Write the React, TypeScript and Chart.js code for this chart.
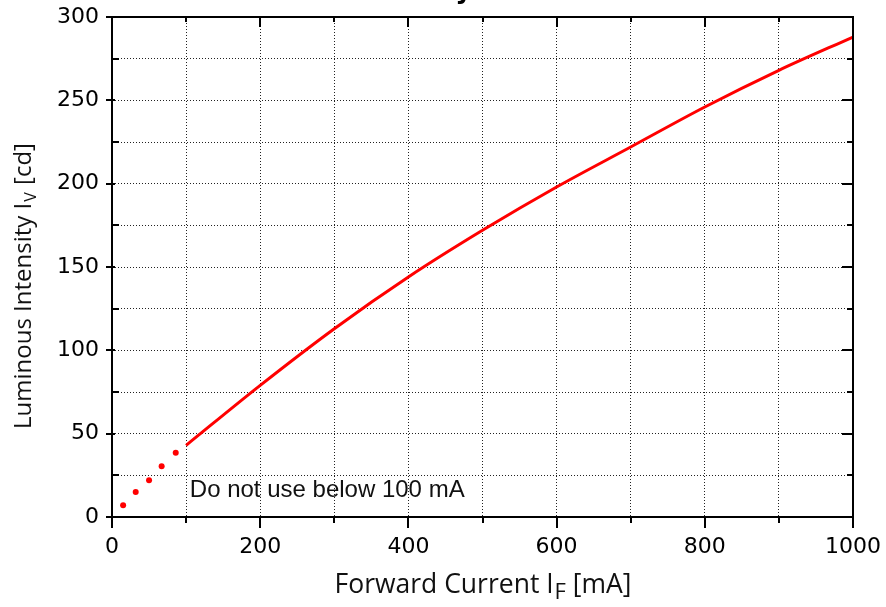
import { useEffect, useRef } from 'react';
import { Chart, registerables } from 'chart.js';

Chart.register(...registerables);

// ---- data ----
const currentMA = [100, 200, 300, 400, 500, 600, 700, 800, 900, 1000];
const intensityCd = [43, 79, 113, 144, 172, 198, 222, 246, 268, 288];
const extrapCurrentMA = [15, 32, 50, 67, 86];
const extrapIntensityCd = [7, 15, 22, 30.5, 38.5];
const xLabelValues = [0, 200, 400, 600, 800, 1000];
const yLabelValues = [0, 50, 100, 150, 200, 250, 300];

const titleText = 'Luminous Intensity vs. Forward Current';
const xTitleParts = ['Forward Current I', 'F', ' [mA]'];
const yTitleParts = ['Luminous Intensity I', 'V', ' [cd]'];
const noteText = 'Do not use below 100 mA';

const TICK_FONT = { family: 'DejaVu Sans', size: 22 };

const decorations = {
  id: 'decorations',
  afterDraw(chart: any) {
    const { ctx, chartArea: a, scales } = chart;
    const x = scales.x;
    const y = scales.y;
    ctx.save();

    // frame
    ctx.strokeStyle = '#000';
    ctx.lineWidth = 2;
    ctx.strokeRect(a.left, a.top, a.right - a.left, a.bottom - a.top);

    const seg = (x1: number, y1: number, x2: number, y2: number) => {
      ctx.beginPath();
      ctx.moveTo(x1, y1);
      ctx.lineTo(x2, y2);
      ctx.stroke();
    };

    // x ticks
    for (let v = 0; v <= 1000; v += 100) {
      const px = Math.round(x.getPixelForValue(v));
      const major = v % 200 === 0;
      const len = major ? 10 : 5;
      seg(px, a.top, px, a.top + len);
      seg(px, a.bottom, px, a.bottom + len + 1);
    }
    // y ticks
    for (let v = 0; v <= 300; v += 25) {
      const py = Math.round(y.getPixelForValue(v));
      const major = v % 50 === 0;
      if (major) {
        seg(a.left - 6, py, a.left + 3, py);
        seg(a.right - 11, py, a.right, py);
      } else {
        seg(a.left, py, a.left + 7, py);
        seg(a.right - 6, py, a.right, py);
      }
    }

    // title (mostly cut off at the top of the page)
    ctx.fillStyle = '#000';
    ctx.font = 'bold 26px "DejaVu Sans"';
    ctx.textAlign = 'center';
    ctx.textBaseline = 'alphabetic';
    ctx.fillText(titleText, (a.left + a.right) / 2, -2);

    // x axis title with subscript
    const mainFont = '26.5px "Open Sans"';
    const subFont = '22px "Open Sans"';
    ctx.fillStyle = '#111';
    ctx.textAlign = 'left';
    ctx.font = mainFont;
    const w1 = ctx.measureText(xTitleParts[0]).width;
    const w3 = ctx.measureText(xTitleParts[2]).width;
    ctx.font = subFont;
    const w2 = ctx.measureText(xTitleParts[1]).width;
    const cx = (a.left + a.right) / 2;
    const sx = cx - (w1 + w2 + w3) / 2;
    const baseX = 593;
    ctx.font = mainFont;
    ctx.fillText(xTitleParts[0], sx, baseX);
    ctx.font = subFont;
    ctx.fillText(xTitleParts[1], sx + w1 + 1, baseX + 6);
    ctx.font = mainFont;
    ctx.fillText(xTitleParts[2], sx + w1 + w2 + 1, baseX);

    // y axis title with subscript
    ctx.save();
    ctx.translate(31, 287);
    ctx.rotate(-Math.PI / 2);
    const yMain = '24px "Open Sans"';
    const ySub = '16px "Open Sans"';
    ctx.font = yMain;
    const v1 = ctx.measureText(yTitleParts[0]).width;
    const v3 = ctx.measureText(yTitleParts[2]).width;
    ctx.font = ySub;
    const v2 = ctx.measureText(yTitleParts[1]).width;
    const sy = -(v1 + v2 + v3) / 2;
    ctx.font = yMain;
    ctx.fillText(yTitleParts[0], sy, 0);
    ctx.font = ySub;
    ctx.fillText(yTitleParts[1], sy + v1 + 1, 5);
    ctx.font = yMain;
    ctx.fillText(yTitleParts[2], sy + v1 + v2 + 2, 0);
    ctx.restore();

    // note
    ctx.font = '24px "Liberation Sans"';
    ctx.fillStyle = '#111';
    ctx.fillText(noteText, x.getPixelForValue(105), y.getPixelForValue(11.8));

    ctx.restore();
  },
};

const noPad = (s: any) => {
  s.paddingLeft = 0;
  s.paddingRight = 0;
  s.paddingTop = 0;
  s.paddingBottom = 0;
};

export default function App() {
  const ref = useRef<HTMLCanvasElement | null>(null);

  useEffect(() => {
    const canvas = ref.current;
    if (!canvas) return;
    const chart = new Chart(canvas, {
      type: 'line',
      data: {
        datasets: [
          {
            data: currentMA.map((c, i) => ({ x: c, y: intensityCd[i] })),
            borderColor: '#ff0000',
            borderWidth: 3,
            pointRadius: 0,
            cubicInterpolationMode: 'monotone',
            fill: false,
          },
          {
            data: extrapCurrentMA.map((c, i) => ({ x: c, y: extrapIntensityCd[i] })),
            showLine: false,
            pointRadius: 3,
            pointBorderWidth: 0,
            pointBackgroundColor: '#ff0000',
            borderColor: '#ff0000',
          },
        ],
      } as any,
      options: {
        animation: false,
        responsive: false,
        events: [],
        layout: { padding: { top: 17, right: 33, left: 0, bottom: 0 } },
        plugins: {
          legend: { display: false },
          tooltip: { enabled: false },
          title: { display: false },
        },
        scales: {
          x: {
            type: 'linear',
            min: 0,
            max: 1000,
            afterFit: (s: any) => {
              s.height = 90;
              noPad(s);
            },
            ticks: {
              stepSize: 100,
              autoSkip: false,
              maxRotation: 0,
              padding: 17,
              color: '#000',
              font: TICK_FONT,
              callback: (v: any) => (xLabelValues.includes(Number(v)) ? String(v) : ''),
            },
            grid: { color: '#222', lineWidth: 1, drawTicks: false },
            border: { display: false, dash: [1, 2] },
          },
          y: {
            type: 'linear',
            min: 0,
            max: 300,
            afterFit: (s: any) => {
              s.width = 112;
              noPad(s);
            },
            ticks: {
              stepSize: 25,
              autoSkip: false,
              padding: 13,
              color: '#000',
              font: TICK_FONT,
              callback: (v: any) => (yLabelValues.includes(Number(v)) ? String(v) : ''),
            },
            grid: { color: '#222', lineWidth: 1, drawTicks: false },
            border: { display: false, dash: [1, 2] },
          },
        },
      } as any,
      plugins: [decorations],
    });
    return () => chart.destroy();
  }, []);

  return (
    <div style={{ position: 'absolute', left: 0, top: 0, width: 886, height: 607, background: '#fff' }}>
      <canvas ref={ref} width={886} height={607} style={{ width: 886, height: 607, display: 'block' }} />
    </div>
  );
}
